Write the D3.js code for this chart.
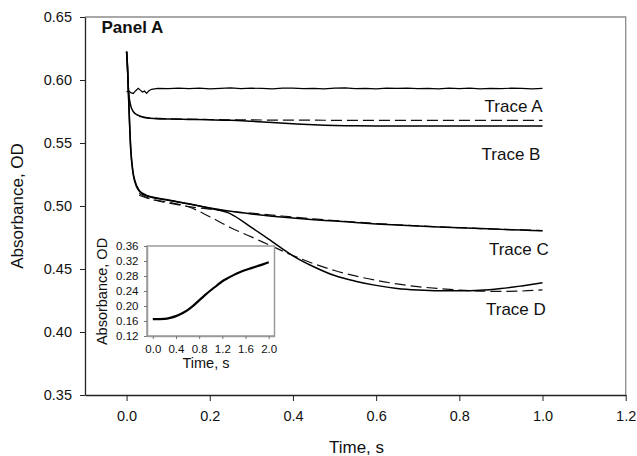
<!DOCTYPE html>
<html>
<head>
<meta charset="utf-8">
<script src="https://cdn.jsdelivr.net/npm/d3@7"></script>
<style>
  body { margin: 0; background: #fff; }
  svg { display: block; font-family: "Liberation Sans", Arial, sans-serif; }
</style>
</head>
<body>
<div id="graph"></div>
<script>
// main panel data
const tMain = [0, 0.002, 0.005, 0.01, 0.015, 0.02, 0.03, 0.04, 0.05, 0.07, 0.1, 0.15, 0.2, 0.25, 0.3,
  0.35, 0.4, 0.45, 0.5, 0.55, 0.6, 0.65, 0.7, 0.75, 0.8, 0.85, 0.9, 0.95, 1.0];
const traceB = [0.6225, 0.610, 0.590, 0.5795, 0.5755, 0.5735, 0.5717, 0.5705, 0.5698, 0.5693, 0.5690,
  0.5687, 0.5684, 0.5680, 0.5672, 0.5663, 0.5653, 0.5644, 0.5638, 0.5636, 0.5635, 0.5635, 0.5635,
  0.5635, 0.5635, 0.5635, 0.5635, 0.5635, 0.5635];
const traceC = [0.6225, 0.612, 0.585, 0.546, 0.528, 0.520, 0.5125, 0.5098, 0.5082, 0.5065, 0.5045,
  0.5015, 0.4985, 0.4958, 0.4937, 0.4919, 0.4904, 0.4891, 0.4881, 0.4869, 0.4858, 0.4849, 0.4841,
  0.4834, 0.4827, 0.4821, 0.4815, 0.4809, 0.4803];
const traceD = [0.6225, 0.612, 0.584, 0.544, 0.527, 0.519, 0.512, 0.5092, 0.5078, 0.5062, 0.5048,
  0.5018, 0.4982, 0.4938, 0.4830, 0.4718, 0.4605, 0.4518, 0.4448, 0.4403, 0.4370, 0.4346, 0.4333,
  0.4327, 0.4327, 0.4331, 0.4345, 0.4366, 0.4390];

const tA = [0, 0.005, 0.01, 0.016, 0.022, 0.028, 0.033, 0.038, 0.043, 0.048, 0.053, 0.06, 0.075,
  0.1, 0.125, 0.15, 0.175, 0.2, 0.225, 0.25, 0.275, 0.3, 0.325, 0.35, 0.375, 0.4, 0.425, 0.45, 0.475,
  0.5, 0.525, 0.55, 0.575, 0.6, 0.625, 0.65, 0.675, 0.7, 0.725, 0.75, 0.775, 0.8, 0.825, 0.85, 0.875,
  0.9, 0.925, 0.95, 0.975, 1.0];
const traceA = [0.5905, 0.5915, 0.5900, 0.5893, 0.5915, 0.5934, 0.5920, 0.5905, 0.5912, 0.5894, 0.5912,
  0.5926, 0.5934, 0.5931, 0.5936, 0.5932, 0.5935, 0.5930, 0.5934, 0.5937, 0.5931, 0.5935, 0.5933,
  0.5929, 0.5935, 0.5936, 0.5931, 0.5934, 0.5930, 0.5935, 0.5937, 0.5932, 0.5934, 0.5930, 0.5935,
  0.5933, 0.5936, 0.5931, 0.5934, 0.5929, 0.5935, 0.5932, 0.5936, 0.5930, 0.5934, 0.5931, 0.5935,
  0.5933, 0.5929, 0.5933];

// fitted curves (dashed)
const tFit = [0.03, 0.05, 0.1, 0.15, 0.2, 0.25, 0.3, 0.35, 0.4, 0.45, 0.5, 0.55, 0.6, 0.65, 0.7,
  0.75, 0.8, 0.85, 0.9, 0.95, 1.0];
const fitB = [0.5712, 0.5702, 0.5693, 0.5689, 0.5686, 0.5684, 0.5683, 0.5682, 0.5681, 0.5681, 0.5680,
  0.5680, 0.5680, 0.5680, 0.5680, 0.5680, 0.5680, 0.5680, 0.5680, 0.5680, 0.5680];
const fitC = [0.5100, 0.5065, 0.5025, 0.4995, 0.4975, 0.4958, 0.4943, 0.4928, 0.4912, 0.4898, 0.4885,
  0.4872, 0.4861, 0.4851, 0.4842, 0.4835, 0.4828, 0.4821, 0.4815, 0.4810, 0.4805];
const fitD = [0.5085, 0.5062, 0.5030, 0.4992, 0.4915, 0.4828, 0.4755, 0.4680, 0.4607, 0.4542, 0.4488,
  0.4445, 0.4410, 0.4382, 0.4360, 0.4345, 0.4333, 0.4325, 0.4322, 0.4325, 0.4335];

const xTicks = [0.0, 0.2, 0.4, 0.6, 0.8, 1.0, 1.2];
const yTicks = [0.35, 0.40, 0.45, 0.50, 0.55, 0.60, 0.65];

const traceLabels = ['Trace A', 'Trace B', 'Trace C', 'Trace D'];
const traceLabelAt = [[1.0, 0.5746], [0.995, 0.5365], [1.015, 0.4611], [1.008, 0.4135]];

// inset data
const tInset = [0, 0.1, 0.2, 0.3, 0.4, 0.5, 0.6, 0.7, 0.8, 0.9, 1.0, 1.1, 1.2, 1.3, 1.4, 1.5, 1.6,
  1.7, 1.8, 1.9, 2.0];
const inset = [0.165, 0.1652, 0.1658, 0.1685, 0.173, 0.180, 0.189, 0.201, 0.215, 0.229, 0.242, 0.254,
  0.266, 0.275, 0.283, 0.290, 0.296, 0.301, 0.306, 0.311, 0.317];
const insetXTicks = [0.0, 0.4, 0.8, 1.2, 1.6, 2.0];
const insetYTicks = [0.12, 0.16, 0.20, 0.24, 0.28, 0.32, 0.36];

const width = 637;
const height = 456;

const svg = d3.select('#graph')
  .append('svg')
  .attr('width', width)
  .attr('height', height);

const xScale = d3.scaleLinear().domain([-0.1, 1.2]).range([85, 625.7]);
const yScale = d3.scaleLinear().domain([0.35, 0.65]).range([395, 17]);

// frame: grey top and right, dark left and bottom
svg.append('path')
  .attr('d', 'M85,17H625.7V395')
  .attr('fill', 'none')
  .attr('stroke', '#8c8c8c')
  .attr('stroke-width', 1.3);

const xAxis = svg.append('g')
  .attr('transform', 'translate(0,395)')
  .call(d3.axisBottom(xScale).tickValues(xTicks).tickFormat(d3.format('.1f'))
    .tickSizeInner(6).tickSizeOuter(0).tickPadding(9.5));
const yAxis = svg.append('g')
  .attr('transform', 'translate(85,0)')
  .call(d3.axisLeft(yScale).tickValues(yTicks).tickFormat(d3.format('.2f'))
    .tickSizeInner(5).tickSizeOuter(0).tickPadding(8));

[xAxis, yAxis].forEach(g => {
  g.select('.domain').attr('stroke', '#222').attr('stroke-width', 1.3);
  g.selectAll('.tick line').attr('stroke', '#222').attr('stroke-width', 1);
  g.selectAll('.tick text').attr('fill', '#111').style('font-size', '14.5px')
    .style('font-family', '"Liberation Sans", Arial, sans-serif');
});

svg.append('text')
  .text('Time, s')
  .attr('x', 356.5)
  .attr('y', 453)
  .attr('text-anchor', 'middle')
  .style('font-size', '17px')
  .attr('fill', '#111');

svg.append('text')
  .text('Absorbance, OD')
  .attr('transform', 'translate(23,206) rotate(-90)')
  .attr('text-anchor', 'middle')
  .style('font-size', '17px')
  .attr('fill', '#111');

svg.append('text')
  .text('Panel A')
  .attr('x', 101.5)
  .attr('y', 33)
  .style('font-size', '17px')
  .style('font-weight', 'bold')
  .attr('fill', '#111');

// traces
const line = d3.line()
  .x(d => xScale(d[0]))
  .y(d => yScale(d[1]))
  .curve(d3.curveMonotoneX);

const lineRaw = d3.line()
  .x(d => xScale(d[0]))
  .y(d => yScale(d[1]));

const solids = [traceB, traceC, traceD];
const fits = [fitB, fitC, fitD];

svg.selectAll('.fit')
  .data(fits)
  .enter()
  .append('path')
  .attr('class', 'fit')
  .attr('d', vals => line(tFit.map((t, i) => [t, vals[i]])))
  .attr('fill', 'none')
  .attr('stroke', '#111')
  .attr('stroke-width', 1.2)
  .attr('stroke-dasharray', '11,5');

svg.selectAll('.trace')
  .data(solids)
  .enter()
  .append('path')
  .attr('class', 'trace')
  .attr('d', vals => line(tMain.map((t, i) => [t, vals[i]])))
  .attr('fill', 'none')
  .attr('stroke', '#000')
  .attr('stroke-width', 1.5);

svg.append('path')
  .attr('d', lineRaw(tA.map((t, i) => [t, traceA[i]])))
  .attr('fill', 'none')
  .attr('stroke', '#000')
  .attr('stroke-width', 1.2);

svg.selectAll('.trace-label')
  .data(traceLabels)
  .enter()
  .append('text')
  .attr('class', 'trace-label')
  .text(d => d)
  .attr('x', (d, i) => xScale(traceLabelAt[i][0]))
  .attr('y', (d, i) => yScale(traceLabelAt[i][1]))
  .attr('text-anchor', 'end')
  .style('font-size', '17px')
  .attr('fill', '#111');

// inset
const ix = d3.scaleLinear().domain([-0.1, 2.1]).range([147, 274.5]);
const iy = d3.scaleLinear().domain([0.12, 0.36]).range([336, 246]);

const insetG = svg.append('g');
insetG.append('rect')
  .attr('x', ix(-0.1))
  .attr('y', iy(0.36))
  .attr('width', ix(2.1) - ix(-0.1))
  .attr('height', iy(0.12) - iy(0.36))
  .attr('fill', '#fff')
  .attr('stroke', '#9a9a9a')
  .attr('stroke-width', 1.5);

const ixAxis = insetG.append('g')
  .attr('transform', 'translate(0,336)')
  .call(d3.axisBottom(ix).tickValues(insetXTicks).tickFormat(d3.format('.1f'))
    .tickSizeInner(3).tickSizeOuter(0).tickPadding(5.5));
const iyAxis = insetG.append('g')
  .attr('transform', 'translate(147,0)')
  .call(d3.axisLeft(iy).tickValues(insetYTicks).tickFormat(d3.format('.2f'))
    .tickSizeInner(3).tickSizeOuter(0).tickPadding(5.5));

[ixAxis, iyAxis].forEach(g => {
  g.select('.domain').attr('stroke', '#9a9a9a').attr('stroke-width', 1.5);
  g.selectAll('.tick line').attr('stroke', '#777');
  g.selectAll('.tick text').attr('fill', '#111').style('font-size', '11.5px')
    .style('font-family', '"Liberation Sans", Arial, sans-serif');
});

insetG.append('path')
  .attr('d', d3.line().x(d => ix(d[0])).y(d => iy(d[1])).curve(d3.curveMonotoneX)(
    tInset.map((t, i) => [t, inset[i]])))
  .attr('fill', 'none')
  .attr('stroke', '#000')
  .attr('stroke-width', 2.2);

insetG.append('text')
  .text('Time, s')
  .attr('x', 206)
  .attr('y', 368)
  .attr('text-anchor', 'middle')
  .style('font-size', '14.5px')
  .attr('fill', '#111');

insetG.append('text')
  .text('Absorbance, OD')
  .attr('transform', 'translate(107,291.5) rotate(-90)')
  .attr('text-anchor', 'middle')
  .style('font-size', '14.5px')
  .attr('fill', '#111');
</script>
</body>
</html>
